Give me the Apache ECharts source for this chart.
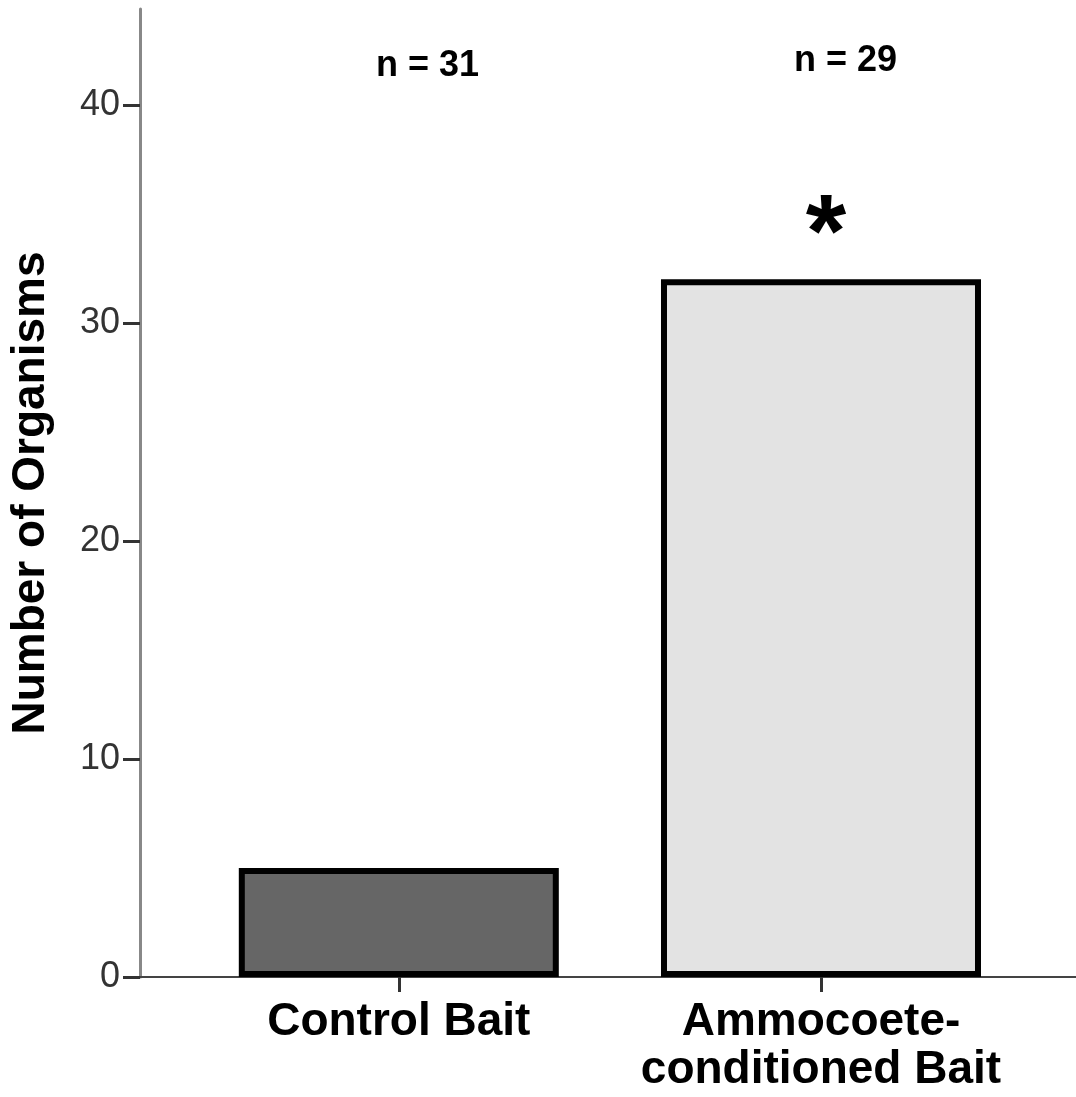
<!DOCTYPE html>
<html><head><meta charset="utf-8">
<script src="https://cdn.jsdelivr.net/npm/echarts@6/dist/echarts.min.js"></script>
<style>html,body{margin:0;padding:0;background:#fff}#c{width:1076px;height:1097px}</style>
</head><body><div id="c"></div>
<script>
const categories = ['Control Bait', 'Ammocoete-\nconditioned Bait'];
const values = [5, 32];
const barColors = ['#666666', '#e3e3e3'];
const yTicks = [0, 10, 20, 30, 40];
const nLabels = ['n = 31', 'n = 29'];
const nLabelPos = [[0.068, 41.8], [1.058, 42.0]];
const starPos = [[1.012, 35.0]];

const F = '"Liberation Sans", Arial, sans-serif';
const chart = echarts.init(document.getElementById('c'), null, {renderer: 'canvas'});
chart.setOption({
  animation: false,
  backgroundColor: '#fff',
  grid: {left: 136, right: 0, top: 9, bottom: 120, containLabel: false},
  xAxis: {
    type: 'value', min: -0.613, max: 1.604,
    splitLine: {show: false},
    axisLine: {show: true, onZero: false, lineStyle: {color: '#444', width: 2}},
    axisTick: {show: true, customValues: [0, 1], length: 15, lineStyle: {color: '#333', width: 3}},
    axisLabel: {customValues: [0, 1], formatter: v => categories[Math.round(v)], color: '#000',
      fontFamily: F, fontWeight: 'bold', fontSize: 46, lineHeight: 48, margin: 21, verticalAlign: 'top'}
  },
  yAxis: {
    type: 'value', min: 0, max: 44.4, interval: 10,
    name: 'Number of Organisms', nameLocation: 'middle', nameGap: 86, nameRotate: 90,
    nameTextStyle: {fontFamily: F, fontWeight: 'bold', fontSize: 46, color: '#000'},
    splitLine: {show: false},
    axisLine: {show: true, onZero: false, lineStyle: {color: '#888', width: 3}},
    axisTick: {show: true, customValues: yTicks, length: 17, lineStyle: {color: '#333', width: 3}},
    axisLabel: {customValues: yTicks, color: '#333', fontFamily: F, fontSize: 36, margin: 20}
  },
  series: [
    {
      type: 'bar', barWidth: 320,
      data: values.map((v, i) => ({value: [i, v], itemStyle: {color: barColors[i]}})),
      itemStyle: {borderColor: '#000', borderWidth: 6},
      z: 3
    },
    {
      type: 'scatter', symbolSize: 0, itemStyle: {opacity: 1, color: '#000'},
      data: nLabels.map((t, i) => [nLabelPos[i][0], nLabelPos[i][1], t]),
      label: {show: true, position: 'inside', formatter: p => p.data[2], color: '#000',
        textBorderWidth: 0, fontFamily: F, fontWeight: 'bold', fontSize: 36}
    },
    {
      type: 'scatter', symbolSize: 0, itemStyle: {opacity: 1, color: '#000'},
      data: starPos,
      label: {show: true, position: 'inside', formatter: '*', color: '#000',
        textBorderWidth: 0, fontFamily: F, fontWeight: 'bold', fontSize: 104, offset: [0, 24]}
    }
  ]
});
</script></body></html>
